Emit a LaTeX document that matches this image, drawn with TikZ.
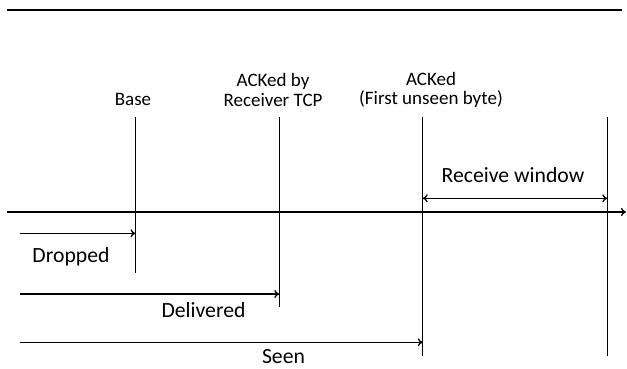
\documentclass[tikz,border=0pt]{standalone}
\usepackage{fontspec}
\setmainfont{Carlito}
\usetikzlibrary{arrows.meta}
\begin{document}
\begin{tikzpicture}[x=1pt,y=-1pt,
  ln/.style={line width=1.3pt},
  arr/.style={line width=1.3pt,-{To[length=5pt,width=8pt]}},
  darr/.style={line width=1.3pt,{To[length=5pt,width=8pt]}-{To[length=5pt,width=8pt]}},
  toplbl/.style={font=\fontsize{19}{19.5}\selectfont,align=center,inner sep=0pt},
  botlbl/.style={font=\fontsize{21.7}{24}\selectfont,inner sep=0pt}]
\useasboundingbox (0,0) rectangle (627,368);
% top rule
\coordinate (rl) at (7,10);
\coordinate (rr) at (622,10);
\draw[line width=1.5pt] (rl) -- (rr);
% axis
\coordinate (axL) at (7,212);
\coordinate (axR) at (626,212);
\draw[arr] (axL) -- (axR);
% vertical lines
\coordinate (bT) at (135.5,117); \coordinate (bB) at (135.5,273);
\coordinate (aT) at (279.3,117); \coordinate (aB) at (279.3,307);
\coordinate (fT) at (422.7,117); \coordinate (fB) at (422.7,356);
\coordinate (wT) at (607.3,117); \coordinate (wB) at (607.3,356);
\draw[ln] (bT) -- (bB);
\draw[ln] (aT) -- (aB);
\draw[ln] (fT) -- (fB);
\draw[ln] (wT) -- (wB);
% top labels
\node[toplbl] (base) at (133,99) {Base};
\node[toplbl] (ackr) at (273,90) {ACKed by\\Receiver TCP};
\node[toplbl] (ackf) at (431,90) {ACKed\\(First unseen byte)};
% receive window
\coordinate (rwL) at (422.7,198.3);
\coordinate (rwR) at (607.3,198.3);
\draw[darr] (rwL) -- (rwR);
\node[botlbl] (rw) at (513,175) {Receive window};
% range arrows
\coordinate (dS) at (20,233.3); \coordinate (dE) at (135.5,233.3);
\coordinate (vS) at (20,294); \coordinate (vE) at (279.3,294);
\coordinate (sS) at (20,342.3); \coordinate (sE) at (422.7,342.3);
\draw[arr] (dS) -- (dE);
\draw[arr] (vS) -- (vE);
\draw[arr] (sS) -- (sE);
\node[botlbl] (drop) at (71,256.5) {Dropped};
\node[botlbl] (deliv) at (203.5,310.5) {Delivered};
\node[botlbl] (seen) at (283.5,357) {Seen};
\end{tikzpicture}
\end{document}
